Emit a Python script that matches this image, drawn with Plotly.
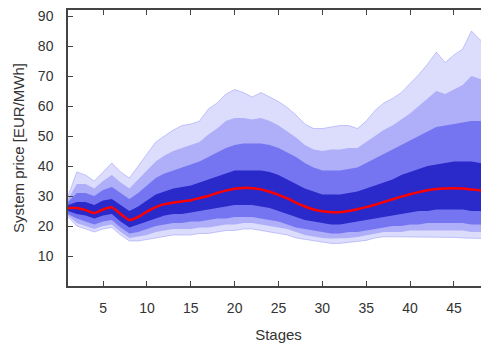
import plotly.graph_objects as go

stages = list(range(1, 50))

upper_env = [30, 38, 37, 35, 38, 41, 38, 36, 40, 44, 48, 50, 52, 53.5, 54, 55, 59, 61, 64, 65.5,
             64.5, 63, 64.5, 63, 61.5, 59.5, 57, 54, 52.5, 52.5, 53, 53.5, 53.5, 52.5, 55, 58.5, 61, 62.5, 64.5, 67.5,
             70.5, 74, 78, 74.5, 77, 79, 85, 82, 81]
p95 = [29, 34, 34, 32.5, 35, 37, 34.5, 32.5, 35.5, 38.5, 41.5, 43.5, 45, 46, 47, 48, 50.5, 52.5, 55, 56,
       56, 55.5, 56, 55, 53.5, 51.5, 49.5, 47, 45.5, 45, 45.5, 45.5, 46, 46, 48, 50, 52, 53.5, 55.5, 57.5,
       60, 62.5, 65, 64, 65.5, 67, 70, 69, 68]
p90 = [28, 31, 31, 30, 32, 33, 31, 29, 31, 33.5, 36, 37.5, 38.5, 39.5, 40.5, 41.5, 43, 44.5, 46, 47,
       47.5, 47.5, 47.5, 47, 46, 44.5, 43, 41, 39.5, 38.5, 38.5, 38.5, 39, 39.5, 41, 42.5, 44, 45.5, 47, 48.5,
       50, 51.5, 53, 53.5, 54, 54.5, 55, 55, 54.5]
p75 = [27, 28, 28, 27, 28.5, 29, 27, 25, 26.5, 28.5, 30.5, 31.5, 32.5, 33, 33.5, 34.5, 35.5, 36.5, 37.5, 38.5,
       38.5, 38.5, 38.5, 38, 37, 35.5, 34, 32.5, 31.5, 30.5, 30.5, 30.5, 31, 31.5, 32.5, 33.5, 34.5, 35.5, 37, 38,
       39, 40, 40.5, 41, 41.5, 41.5, 41.5, 41, 40.5]
mean_price = [26, 26, 25.3, 24.3, 25.5, 26.2, 24, 22, 23, 24.8, 26.3, 27.3, 27.8, 28.2, 28.6, 29.3, 30, 31, 31.8, 32.4,
              32.7, 32.6, 32.2, 31.4, 30.4, 29.2, 27.8, 26.5, 25.5, 24.9, 24.6, 24.6, 25, 25.6, 26.3, 27.1, 28, 28.9, 29.8, 30.6,
              31.3, 31.9, 32.3, 32.5, 32.6, 32.5, 32.2, 31.9, 31.5]
p25 = [25, 24, 23.5, 22.5, 23.5, 24, 21.5, 19.5, 20.5, 21.5, 22.5, 23.5, 24, 24, 24.5, 25, 25.5, 26, 26.5, 27,
       27, 27, 26.5, 26, 25, 24, 23, 22, 21.5, 21, 20.5, 20.5, 21, 21.5, 22, 22.5, 23, 23.5, 24, 24.5,
       25, 25, 25.5, 25.5, 25.5, 25.5, 25, 25, 24.5]
p10 = [24, 22.5, 21.5, 20.5, 21.5, 22, 19.5, 17.5, 18, 19, 20, 20.5, 21, 21, 21.5, 21.5, 22, 22.5, 22.5, 23,
       23, 23, 22.5, 22, 21.5, 20.5, 19.5, 19, 18.5, 18, 17.5, 17.5, 18, 18, 18.5, 19, 19.5, 20, 20, 20.5,
       20.5, 21, 21, 21, 21, 21, 20.5, 20.5, 20]
p5 = [23.5, 21, 20, 19, 20, 20.5, 18, 16, 16.5, 17, 18, 18.5, 19, 19, 19, 19.5, 19.5, 20, 20.5, 20.5,
      21, 21, 20.5, 20, 19.5, 19, 18, 17, 16.5, 16, 15.8, 15.8, 16, 16.3, 16.8, 17.5, 18, 18, 18, 18.5,
      18.5, 18.5, 18.5, 18.5, 18.5, 18.5, 18, 18, 17.5]
lower_env = [23, 20, 19, 18, 19, 19.5, 17, 15, 15, 15.5, 16, 16.5, 17, 17, 17, 17.5, 17.5, 18, 18.5, 18.5,
             19, 19, 18.5, 18, 17.5, 17, 16, 15.5, 15, 14.5, 14.2, 14.2, 14.5, 14.7, 15.2, 16, 16.4, 16.4, 16.4, 16.4,
             16.4, 16.4, 16.4, 16.3, 16.2, 16, 16, 15.8, 15.8]

x_ticks = [5, 10, 15, 20, 25, 30, 35, 40, 45]
y_ticks = [10, 20, 30, 40, 50, 60, 70, 80, 90]

fig = go.Figure()


def band(lo, hi, color, edge, w):
    fig.add_trace(go.Scatter(x=stages, y=lo, mode="lines", line=dict(width=w, color=edge),
                             showlegend=False, hoverinfo="skip"))
    fig.add_trace(go.Scatter(x=stages, y=hi, mode="lines", line=dict(width=w, color=edge),
                             fill="tonexty", fillcolor=color, showlegend=False, hoverinfo="skip"))


band(lower_env, upper_env, "rgba(110,110,245,0.24)", "rgba(100,100,245,0.45)", 0.7)
band(p5, p95, "rgba(85,85,240,0.34)", "rgba(0,0,0,0)", 0)
band(p10, p90, "rgba(50,50,230,0.46)", "rgba(0,0,0,0)", 0)
band(p25, p75, "rgba(10,10,185,0.70)", "rgba(0,0,0,0)", 0)

fig.add_trace(go.Scatter(x=stages, y=mean_price, mode="lines",
                         line=dict(color="#ff0000", width=2.5, shape="spline", smoothing=0.6),
                         showlegend=False))

font = "Liberation Sans, Arial, sans-serif"
axis_common = dict(showline=True, linecolor="#444", linewidth=1.5, mirror="ticks",
                   ticks="inside", ticklen=5, tickcolor="#444", tickwidth=1,
                   showgrid=False, zeroline=False, automargin=False, ticklabeloverflow="allow",
                   tickfont=dict(family=font, size=14, color="#333"))

fig.update_xaxes(range=[1, 49], tickvals=x_ticks, ticklabelstandoff=8,
                 title=dict(text="Stages", font=dict(family=font, size=15, color="#333"), standoff=15),
                 **axis_common)
fig.update_yaxes(range=[0, 92], tickvals=y_ticks, ticklabelstandoff=10,
                 title=dict(text="System price [EUR/MWh]", font=dict(family=font, size=15, color="#333"), standoff=10),
                 **axis_common)

# page body has an 8px default margin; compensate so the plot area sits at 68..489 x 10..286
fig.update_layout(width=489, height=353, margin=dict(l=60, r=8, t=2, b=75),
                  plot_bgcolor="white", paper_bgcolor="white")

fig.write_html("out.html")
